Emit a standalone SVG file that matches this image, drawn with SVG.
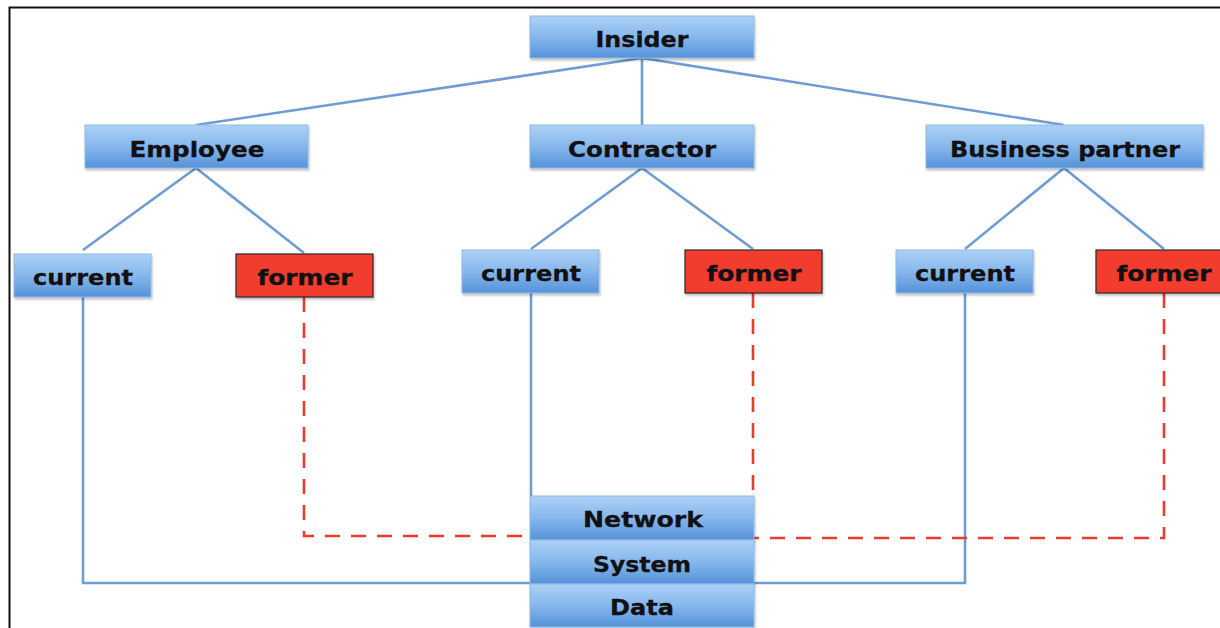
<svg xmlns="http://www.w3.org/2000/svg" width="1220" height="628" viewBox="0 0 1220 628">
  <defs>
    <linearGradient id="blueFill" x1="0" y1="0" x2="0" y2="1">
      <stop offset="0" stop-color="#acd1f7"/>
      <stop offset="0.5" stop-color="#86b7ec"/>
      <stop offset="1" stop-color="#5592da"/>
    </linearGradient>
    <filter id="shadow" x="-5%" y="-10%" width="110%" height="130%">
      <feDropShadow dx="1" dy="2" stdDeviation="1.2" flood-color="#000" flood-opacity="0.25"/>
    </filter>
  </defs>
  <style>
    .box { fill: url(#blueFill); stroke: #8db7e3; stroke-width: 1; filter: url(#shadow); }
    .red { fill: #f23d2e; stroke: #2a2a2a; stroke-width: 1.2; filter: url(#shadow); }
    .lbl { font-family: "DejaVu Sans", Verdana, sans-serif; font-weight: bold; font-size: 22px; fill: #111; stroke: #111; stroke-width: 0.3; text-anchor: middle; }
    .link { fill: none; stroke: #6d9dd2; stroke-width: 2.6; }
    .dash { fill: none; stroke: #ea3b2f; stroke-width: 2.6; stroke-dasharray: 15 11; }
  </style>

  <rect width="1220" height="628" fill="#fff"/>
  <!-- outer frame -->
  <path d="M9.5,628 V7.5 H1220" fill="none" stroke="#111" stroke-width="2"/>

  <g id="connectors">
    <line class="link" x1="642" y1="58" x2="196" y2="125"/>
    <line class="link" x1="642" y1="58" x2="642" y2="125"/>
    <line class="link" x1="642" y1="58" x2="1064" y2="125"/>
    <line class="link" x1="196" y1="168" x2="83" y2="250"/>
    <line class="link" x1="196" y1="168" x2="304" y2="253"/>
    <line class="link" x1="642" y1="168" x2="531" y2="249"/>
    <line class="link" x1="642" y1="168" x2="753" y2="249"/>
    <line class="link" x1="1064" y1="168" x2="965" y2="249"/>
    <line class="link" x1="1064" y1="168" x2="1164" y2="249"/>
    <path class="link" d="M83,297 V583 H530"/>
    <path class="link" d="M531,293 V496"/>
    <path class="link" d="M965,293 V583 H754"/>
    <path class="dash" d="M304,297 V536 H530"/>
    <path class="dash" d="M753,293 V494"/>
    <path class="dash" d="M1164,293 V538 H754"/>
  </g>

  <g id="insider">
    <rect class="box" x="530" y="16" width="224" height="42"/>
    <text class="lbl" x="642" y="47" textLength="93" lengthAdjust="spacingAndGlyphs">Insider</text>
  </g>
  <g id="employee">
    <rect class="box" x="85" y="125" width="223" height="43"/>
    <text class="lbl" x="197" y="157" textLength="135" lengthAdjust="spacingAndGlyphs">Employee</text>
  </g>
  <g id="contractor">
    <rect class="box" x="530" y="125" width="224" height="43"/>
    <text class="lbl" x="642" y="157" textLength="148" lengthAdjust="spacingAndGlyphs">Contractor</text>
  </g>
  <g id="business-partner">
    <rect class="box" x="926" y="125" width="277" height="43"/>
    <text class="lbl" x="1065" y="157" textLength="230" lengthAdjust="spacingAndGlyphs">Business partner</text>
  </g>

  <g id="employee-current">
    <rect class="box" x="14" y="254" width="137" height="43"/>
    <text class="lbl" x="83" y="285" textLength="100" lengthAdjust="spacingAndGlyphs">current</text>
  </g>
  <g id="employee-former">
    <rect class="red" x="236" y="254" width="137" height="43"/>
    <text class="lbl" x="305" y="285" textLength="95" lengthAdjust="spacingAndGlyphs">former</text>
  </g>
  <g id="contractor-current">
    <rect class="box" x="462" y="250" width="137" height="43"/>
    <text class="lbl" x="531" y="281" textLength="100" lengthAdjust="spacingAndGlyphs">current</text>
  </g>
  <g id="contractor-former">
    <rect class="red" x="685" y="250" width="137" height="43"/>
    <text class="lbl" x="754" y="281" textLength="95" lengthAdjust="spacingAndGlyphs">former</text>
  </g>
  <g id="partner-current">
    <rect class="box" x="896" y="250" width="137" height="43"/>
    <text class="lbl" x="965" y="281" textLength="100" lengthAdjust="spacingAndGlyphs">current</text>
  </g>
  <g id="partner-former">
    <rect class="red" x="1096" y="250" width="137" height="43"/>
    <text class="lbl" x="1164" y="281" textLength="95" lengthAdjust="spacingAndGlyphs">former</text>
  </g>

  <g id="network">
    <rect class="box" x="530" y="496" width="224" height="44"/>
    <text class="lbl" x="643" y="527" textLength="120" lengthAdjust="spacingAndGlyphs">Network</text>
  </g>
  <g id="system">
    <rect class="box" x="530" y="540" width="224" height="44"/>
    <text class="lbl" x="642" y="572" textLength="98" lengthAdjust="spacingAndGlyphs">System</text>
  </g>
  <g id="data">
    <rect class="box" x="530" y="584" width="224" height="43"/>
    <text class="lbl" x="642" y="615" textLength="64" lengthAdjust="spacingAndGlyphs">Data</text>
  </g>
</svg>
